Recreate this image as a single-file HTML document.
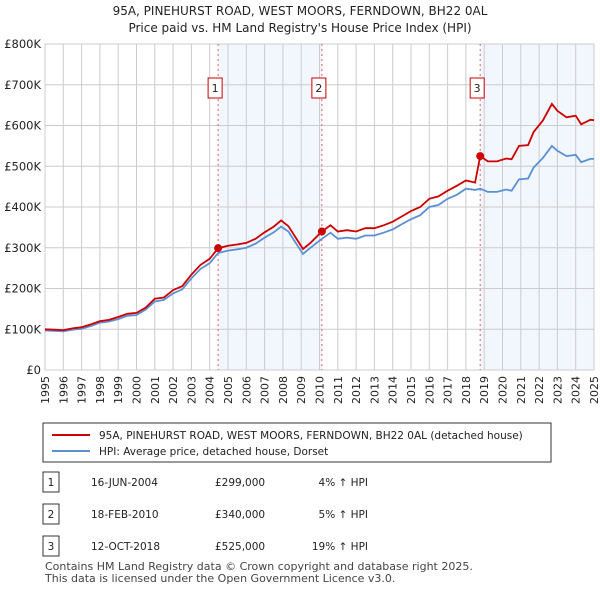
<!DOCTYPE html>
<html><head><meta charset="utf-8"><style>
body{margin:0;background:#fff;font-family:"Liberation Sans","DejaVu Sans",sans-serif;}
svg text{font-family:"DejaVu Sans","Liberation Sans",sans-serif;}
</style></head><body>
<svg width="600" height="590" viewBox="0 0 600 590">
<text x="300" y="15" text-anchor="middle" font-size="12" fill="#222">95A, PINEHURST ROAD, WEST MOORS, FERNDOWN, BH22 0AL</text>
<text x="300" y="32" text-anchor="middle" font-size="12" fill="#222">Price paid vs. HM Land Registry's House Price Index (HPI)</text>
<g id="plot"></g>
<rect x="43" y="423" width="508" height="39" fill="#fff" stroke="#333"/>
<line x1="52" y1="435" x2="90" y2="435" stroke="#cc0000" stroke-width="2"/>
<text x="99" y="439" font-size="10.5" fill="#222">95A, PINEHURST ROAD, WEST MOORS, FERNDOWN, BH22 0AL (detached house)</text>
<line x1="52" y1="451" x2="90" y2="451" stroke="#5b8fd4" stroke-width="2"/>
<text x="99" y="455" font-size="10.5" fill="#222">HPI: Average price, detached house, Dorset</text>
<g id="table" font-size="10.5" fill="#222"></g>
<text x="45" y="570" font-size="11" fill="#444">Contains HM Land Registry data © Crown copyright and database right 2025.</text>
<text x="45" y="582" font-size="11" fill="#444">This data is licensed under the Open Government Licence v3.0.</text>
</svg>
<script>
const years=[1995,1995.5,1996,1996.5,1997,1997.5,1998,1998.5,1999,1999.5,2000,2000.5,2001,2001.5,2002,2002.5,2003,2003.5,2004,2004.46,2005,2005.5,2006,2006.5,2007,2007.5,2007.9,2008.3,2008.8,2009.1,2009.5,2010.13,2010.6,2011,2011.5,2012,2012.5,2013,2013.5,2014,2014.5,2015,2015.5,2016,2016.5,2017,2017.5,2018,2018.5,2018.78,2019.2,2019.7,2020.2,2020.5,2020.9,2021.4,2021.7,2022.2,2022.7,2023,2023.5,2024,2024.3,2024.8,2025];
const hpi=[97,96,95,99,101,108,116,119,125,133,135,148,168,172,188,198,225,248,262,287,293,296,300,310,325,338,352,340,305,285,300,322,337,322,325,322,330,330,337,345,358,370,380,400,405,420,430,445,442,445,437,437,443,440,468,470,497,520,550,538,525,528,510,518,518];
const price=[100,99,98,102,105,112,120,123,130,138,140,153,175,178,196,206,234,258,273,299,305,308,312,322,338,352,367,353,318,297,312,340,355,340,343,340,348,348,355,364,377,390,400,420,426,440,452,465,460,525,512,512,519,517,550,552,584,612,653,636,620,624,603,614,613];
const yTicks=[0,100,200,300,400,500,600,700,800];
const yTickLabels=["£0","£100K","£200K","£300K","£400K","£500K","£600K","£700K","£800K"];
const sales=[2004.46,2010.13,2018.78];
const saleValues=[299,340,525];
const saleLabels=["1","2","3"];
const saleDates=["16-JUN-2004","18-FEB-2010","12-OCT-2018"];
const salePrices=["£299,000","£340,000","£525,000"];
const saleHpi=["4% ↑ HPI","5% ↑ HPI","19% ↑ HPI"];
const X0=45,X1=594,Y0=370,Y1=44;
const xs=y=>X0+(y-1995)/30*(X1-X0);
const ys=v=>Y0-v/800*(Y0-Y1);
const NS="http://www.w3.org/2000/svg";
const g=document.getElementById('plot');
function mk(tag,attrs,parent){const e=document.createElementNS(NS,tag);for(const k in attrs)e.setAttribute(k,attrs[k]);(parent||g).appendChild(e);return e;}
let e;
e=mk('rect',{x:xs(sales[0]),y:Y1,width:xs(sales[1])-xs(sales[0]),height:Y0-Y1,fill:'#f2f6fd'});


e=mk('rect',{x:xs(sales[2]),y:Y1,width:X1-xs(sales[2]),height:Y0-Y1,fill:'#f2f6fd'});


for(let yr=1995;yr<=2025;yr++){
 e=mk('line',{x1:xs(yr),x2:xs(yr),y1:Y1,y2:Y0,stroke:'#ccc','stroke-width':1});
 
 
 e=mk('text',{x:0,y:0,'font-size':11,fill:'#222','text-anchor':'end',transform:`translate(${xs(yr)+4},${Y0+6}) rotate(-90)`});
 e.textContent=yr;
 
 
}
yTicks.forEach((v,i)=>{
 e=mk('line',{x1:X0,x2:X1,y1:ys(v),y2:ys(v),stroke:'#ccc','stroke-width':1});
 
 
 e=mk('text',{x:X0-4,y:ys(v)+4,'font-size':11.5,fill:'#222','text-anchor':'end'});
 e.textContent=yTickLabels[i];
 
 
});
e=mk('rect',{x:X0,y:Y1,width:X1-X0,height:Y0-Y1,fill:'none',stroke:'#ccc'});


sales.forEach((s,i)=>{
 e=mk('line',{x1:xs(s),x2:xs(s),y1:Y1,y2:Y0,stroke:'#e06060','stroke-dasharray':'2,3','stroke-width':1});
 
 
 e=mk('rect',{x:xs(s)-10,y:78,width:14,height:20,fill:'#fff',stroke:'#cc0000'});
 
 
 e=mk('text',{x:xs(s)-3,y:92,'font-size':11,fill:'#222','text-anchor':'middle'});
 e.textContent=saleLabels[i];
 
 
});
const path=arr=>arr.map((v,i)=>(i?'L':'M')+xs(years[i]).toFixed(1)+','+ys(v).toFixed(1)).join('');
e=mk('path',{d:path(hpi),fill:'none',stroke:'#5b8fd4','stroke-width':1.8});


e=mk('path',{d:path(price),fill:'none',stroke:'#cc0000','stroke-width':1.8});


sales.forEach((s,i)=>{
 e=mk('circle',{cx:xs(s),cy:ys(saleValues[i]),r:4,fill:'#cc0000'});
 
 
});
const t=document.getElementById('table');
sales.forEach((s,i)=>{
 const y=482+i*32;
 e=mk('rect',{x:43,y:y-10,width:16,height:20,fill:'#fff',stroke:'#333'},t);
 
 
 e=mk('text',{x:51,y:y+4,'text-anchor':'middle'},t);e.textContent=saleLabels[i];
 
 
 e=mk('text',{x:91,y:y+4},t);e.textContent=saleDates[i];
 
 
 e=mk('text',{x:215,y:y+4},t);e.textContent=salePrices[i];
 
 
 e=mk('text',{x:368,y:y+4,'text-anchor':'end'},t);e.textContent=saleHpi[i];
 
 
});
</script>
</body></html>
